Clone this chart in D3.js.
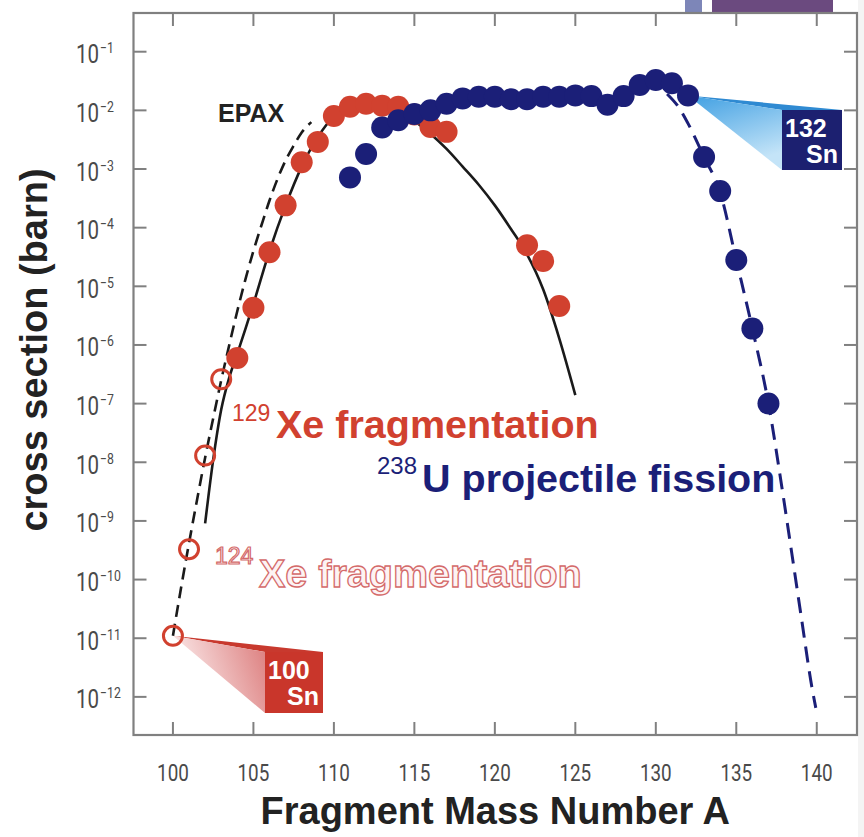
<!DOCTYPE html>
<html>
<head>
<meta charset="utf-8">
<script src="https://cdn.jsdelivr.net/npm/d3@7"></script>
<style>
	body { margin: 0; background: #fff; }
	svg { display: block; }
	.ticklbl { font-family: "Roboto", "Liberation Sans", sans-serif; fill: #4a4a4a; }
	.title { font-family: "Liberation Sans", Arial, sans-serif; font-weight: bold; fill: #222; }
	.lbl { font-family: "Liberation Sans", Arial, sans-serif; }
</style>
</head>
<body>
<div id="chart"></div>
<script>
// 129Xe fragmentation (filled red)
var xe129A = [104, 105, 106, 107, 108, 109, 110, 111, 112, 113, 114, 115, 116, 117, 122, 123, 124];
var xe129Sigma = [6e-7, 4.3e-6, 3.8e-5, 2.4e-4, 1.3e-3, 2.9e-3, 8e-3, 1.15e-2, 1.3e-2, 1.2e-2, 1.15e-2, 8.5e-3, 5.2e-3, 4.3e-3, 5e-5, 2.7e-5, 4.6e-6];

// 124Xe fragmentation (open red)
var xe124A = [100, 101, 102, 103];
var xe124Sigma = [1.1e-11, 3.3e-10, 1.3e-8, 2.6e-7];

// 238U projectile fission (filled blue)
var uA = [111, 112, 113, 114, 115, 116, 117, 118, 119, 120, 121, 122, 123, 124, 125, 126, 127, 128, 129, 130, 131, 132, 133, 134, 135, 136, 137];
var uSigma = [7.2e-4, 1.8e-3, 5.1e-3, 6.8e-3, 8.7e-3, 1.0e-2, 1.3e-2, 1.6e-2, 1.7e-2, 1.7e-2, 1.55e-2, 1.55e-2, 1.7e-2, 1.7e-2, 1.8e-2, 1.75e-2, 1.25e-2, 1.75e-2, 2.7e-2, 3.3e-2, 2.9e-2, 1.8e-2, 1.6e-3, 4.2e-4, 2.8e-5, 1.9e-6, 1.0e-7];

// EPAX for 129Xe (solid black)
var epax129A = [102, 102.5, 103, 103.5, 104, 105, 106, 107, 108, 109, 110, 111, 112, 113, 114, 115, 116, 117, 118, 119, 120, 121, 122, 123, 124, 125];
var epax129Sigma = [9.1e-10, 1.1e-8, 7.9e-8, 2.8e-7, 7.1e-7, 5e-6, 4e-5, 2.4e-4, 1.1e-3, 3.5e-3, 7.9e-3, 1.2e-2, 1.4e-2, 1.3e-2, 1.0e-2, 6.6e-3, 4.0e-3, 2.2e-3, 1.1e-3, 5.4e-4, 2.4e-4, 9.5e-5, 3.5e-5, 8.9e-6, 1.3e-6, 1.4e-7];

// EPAX for 124Xe (dashed black)
var epax124A = [100, 100.5, 101, 101.5, 102, 102.5, 103, 103.5, 104, 104.5, 105, 105.5, 106, 106.5, 107, 107.5, 108, 108.6];
var epax124Sigma = [1.1e-11, 7.1e-11, 4.2e-10, 2.3e-9, 1.2e-8, 5.6e-8, 2.5e-7, 1.0e-6, 3.8e-6, 1.3e-5, 4.0e-5, 1.1e-4, 2.9e-4, 6.8e-4, 1.4e-3, 2.5e-3, 4.2e-3, 6.3e-3];

// fit through fission tail (dashed blue)
var uFitA = [130.7, 131.5, 132, 133, 134, 135, 136, 137, 137.83, 138.45, 139.07, 139.69, 139.94];
var uFitSigma = [1.9e-2, 1.05e-2, 6.0e-3, 1.6e-3, 4.0e-4, 2.8e-5, 1.9e-6, 1.0e-7, 3.8e-9, 2.8e-10, 2.0e-11, 1.5e-12, 6.5e-13];

var xTicks = [100, 105, 110, 115, 120, 125, 130, 135, 140];
var yExps = [-1, -2, -3, -4, -5, -6, -7, -8, -9, -10, -11, -12];

(function draw() {
	var W = 864, H = 837;
	var pl = 133.5, pr = 857, pt = 13, pb = 735;
	var red = '#d1412f', blue = '#1b1f78';

	var svg = d3.select('#chart').append('svg')
		.attr('width', W)
		.attr('height', H);

	var x = d3.scaleLinear().domain([97.55, 142.5]).range([pl, pr]);
	var y = d3.scaleLog().domain([Math.pow(10, -12.65), Math.pow(10, -0.34)]).range([pb, pt]);

	function zip(a, b) { return a.map(function(v, i) { return [v, b[i]]; }); }

	var defs = svg.append('defs');
	var gb = defs.append('linearGradient').attr('id', 'gblue')
		.attr('x1', '0').attr('y1', '0').attr('x2', '0.4').attr('y2', '1');
	gb.append('stop').attr('offset', '0').attr('stop-color', '#3f9fe2');
	gb.append('stop').attr('offset', '1').attr('stop-color', '#c4e4f8');
	var gr = defs.append('linearGradient').attr('id', 'gred')
		.attr('x1', '0').attr('y1', '0.3').attr('x2', '1').attr('y2', '0');
	gr.append('stop').attr('offset', '0').attr('stop-color', '#fbeaea');
	gr.append('stop').attr('offset', '1').attr('stop-color', '#dc7d7d');

	// stray bits of the source figure at the top edge
	svg.append('rect').attr('x', 685).attr('y', 0).attr('width', 17).attr('height', 12).attr('fill', '#7d86b8');
	svg.append('rect').attr('x', 712).attr('y', 0).attr('width', 121).attr('height', 13).attr('fill', '#6b4a7f');
	svg.append('rect').attr('x', pr + 1).attr('y', 0).attr('width', W - pr).attr('height', H).attr('fill', '#f4f4f4');

	// callout wedges (under the marks)
	function callout(px, py, bx, by, bw, bh, topFill, sideFill, boxFill, mass) {
		svg.append('path')
			.attr('d', 'M' + [px, py] + 'L' + [bx, by] + 'L' + [bx + bw, by] + 'Z')
			.attr('fill', topFill);
		svg.append('path')
			.attr('d', 'M' + [px, py] + 'L' + [bx, by] + 'L' + [bx, by + bh] + 'Z')
			.attr('fill', sideFill);
		svg.append('rect')
			.attr('x', bx).attr('y', by).attr('width', bw).attr('height', bh)
			.attr('fill', boxFill);
		svg.append('text').attr('class', 'lbl')
			.attr('x', bx + 3).attr('y', by + 27)
			.attr('font-size', 25).attr('font-weight', 'bold').attr('fill', '#fff')
			.text(mass);
		svg.append('text').attr('class', 'lbl')
			.attr('x', bx + bw - 4).attr('y', by + 53)
			.attr('text-anchor', 'end')
			.attr('font-size', 25).attr('font-weight', 'bold').attr('fill', '#fff')
			.text('Sn');
	}
	callout(x(132), y(uSigma[21]), 782, 110, 60, 60, '#2f8ad2', 'url(#gblue)', '#1c2070', '132');
	callout(x(100), y(xe124Sigma[0]), 265, 652, 58, 61, '#c8392e', 'url(#gred)', '#c9362b', '100');

	// frame and ticks
	svg.append('rect')
		.attr('x', pl).attr('y', pt).attr('width', pr - pl).attr('height', pb - pt)
		.attr('fill', 'none').attr('stroke', '#808080').attr('stroke-width', 2.2);

	var ticks = svg.append('g').attr('stroke', '#808080').attr('stroke-width', 2);
	xTicks.forEach(function(t) {
		ticks.append('line').attr('x1', x(t)).attr('x2', x(t)).attr('y1', pb).attr('y2', pb - 13);
		ticks.append('line').attr('x1', x(t)).attr('x2', x(t)).attr('y1', pt).attr('y2', pt + 13);
	});
	yExps.forEach(function(e) {
		var yy = y(Math.pow(10, e));
		ticks.append('line').attr('x1', pl).attr('x2', pl + 13).attr('y1', yy).attr('y2', yy);
		ticks.append('line').attr('x1', pr).attr('x2', pr - 13).attr('y1', yy).attr('y2', yy);
	});

	// condensed look for the tick labels
	svg.selectAll('.xlbl').data(xTicks).enter().append('text')
		.attr('class', 'ticklbl xlbl')
		.attr('transform', function(d) { return 'translate(' + x(d) + ',781) scale(0.82,1)'; })
		.attr('text-anchor', 'middle')
		.attr('font-size', 23)
		.text(function(d) { return d; });

	var ylbl = svg.selectAll('.ylbl').data(yExps).enter().append('g').attr('class', 'ylbl');
	ylbl.append('text').attr('class', 'ticklbl')
		.attr('transform', function(d) { return 'translate(76,' + (y(Math.pow(10, d)) + 11.5) + ') scale(0.82,1)'; })
		.attr('font-size', 25)
		.text('10');
	ylbl.append('text').attr('class', 'ticklbl')
		.attr('transform', function(d) { return 'translate(100,' + (y(Math.pow(10, d)) + 1.5) + ') scale(0.82,1)'; })
		.attr('font-size', 15)
		.text(function(d) { return '\u2212' + (-d); });

	// axis titles
	svg.append('text').attr('class', 'title')
		.attr('x', (pl + pr) / 2).attr('y', 824)
		.attr('text-anchor', 'middle').attr('font-size', 38)
		.text('Fragment Mass Number A');
	svg.append('text').attr('class', 'title')
		.attr('transform', 'translate(47,350) rotate(-90)')
		.attr('text-anchor', 'middle').attr('font-size', 38)
		.text('cross section (barn)');

	// curves
	var line = d3.line()
		.x(function(d) { return x(d[0]); })
		.y(function(d) { return y(d[1]); })
		.curve(d3.curveMonotoneX);

	svg.append('path').datum(zip(epax124A, epax124Sigma))
		.attr('d', line).attr('fill', 'none')
		.attr('stroke', '#1a1a1a').attr('stroke-width', 2.6).attr('stroke-dasharray', '12,7');
	svg.append('path').datum(zip(epax129A, epax129Sigma))
		.attr('d', line).attr('fill', 'none')
		.attr('stroke', '#1a1a1a').attr('stroke-width', 2.6);
	svg.append('path').datum(zip(uFitA, uFitSigma))
		.attr('d', line).attr('fill', 'none')
		.attr('stroke', blue).attr('stroke-width', 3).attr('stroke-dasharray', '16,9');

	// marks
	svg.selectAll('.open').data(zip(xe124A, xe124Sigma)).enter().append('circle')
		.attr('class', 'open')
		.attr('cx', function(d) { return x(d[0]); })
		.attr('cy', function(d) { return y(d[1]); })
		.attr('r', 9.5)
		.attr('fill', 'none').attr('stroke', red).attr('stroke-width', 3);

	svg.selectAll('.xe').data(zip(xe129A, xe129Sigma)).enter().append('circle')
		.attr('class', 'xe')
		.attr('cx', function(d) { return x(d[0]); })
		.attr('cy', function(d) { return y(d[1]); })
		.attr('r', 11)
		.attr('fill', red);

	svg.selectAll('.u').data(zip(uA, uSigma)).enter().append('circle')
		.attr('class', 'u')
		.attr('cx', function(d) { return x(d[0]); })
		.attr('cy', function(d) { return y(d[1]); })
		.attr('r', 11)
		.attr('fill', blue);

	// labels
	svg.append('text').attr('class', 'lbl')
		.attr('x', 218).attr('y', 122)
		.attr('font-size', 25).attr('font-weight', 'bold').attr('fill', '#222')
		.text('EPAX');

	svg.append('text').attr('class', 'lbl')
		.attr('x', 232).attr('y', 421).attr('font-size', 23).attr('fill', red)
		.text('129');
	svg.append('text').attr('class', 'lbl')
		.attr('x', 276).attr('y', 438).attr('font-size', 39.5).attr('font-weight', 'bold').attr('fill', red)
		.text('Xe fragmentation');

	svg.append('text').attr('class', 'lbl')
		.attr('x', 377).attr('y', 474).attr('font-size', 24).attr('fill', blue)
		.text('238');
	svg.append('text').attr('class', 'lbl')
		.attr('x', 422).attr('y', 492).attr('font-size', 39.5).attr('font-weight', 'bold').attr('fill', blue)
		.text('U projectile fission');

	svg.append('text').attr('class', 'lbl')
		.attr('x', 215).attr('y', 564).attr('font-size', 23)
		.attr('fill', '#fdf3f3').attr('stroke', '#d46a6a').attr('stroke-width', 1.2)
		.text('124');
	svg.append('text').attr('class', 'lbl')
		.attr('x', 259).attr('y', 587).attr('font-size', 39.5).attr('font-weight', 'bold')
		.attr('fill', '#fdf3f3').attr('stroke', '#d46a6a').attr('stroke-width', 1.3)
		.text('Xe fragmentation');
})();
</script>
</body>
</html>
